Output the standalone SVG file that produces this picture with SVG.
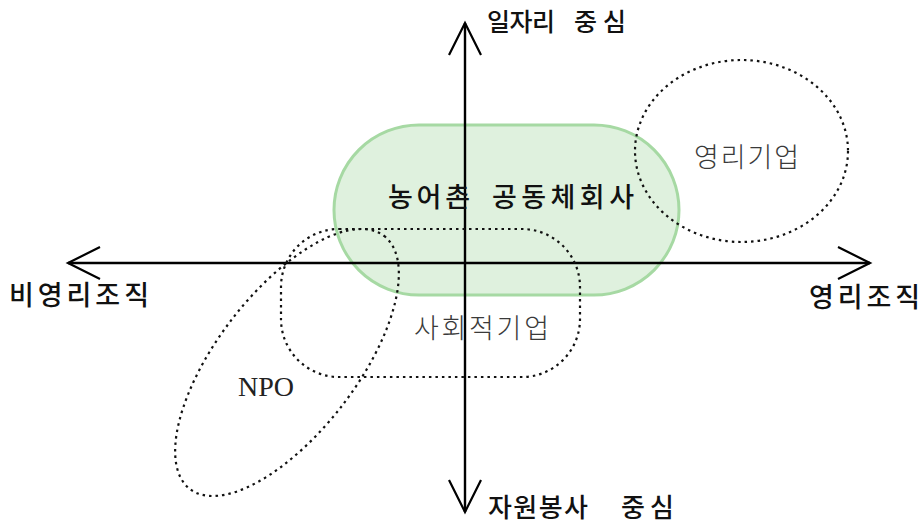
<svg xmlns="http://www.w3.org/2000/svg" width="921" height="524" viewBox="0 0 921 524">
<style>
.kr{font-family:"Noto Sans CJK KR","Noto Sans CJK SC",sans-serif;fill:#111;font-weight:500}
.inner{font-family:"Noto Sans CJK KR","Noto Sans CJK SC",sans-serif;fill:#3a3a3a;font-weight:300}
.dot{fill:none;stroke:#111;stroke-width:2.2;stroke-dasharray:2.5 4}
.axis{stroke:#000;stroke-width:2.4;fill:none}
</style>
<defs>
<marker id="arr" markerUnits="userSpaceOnUse" markerWidth="40" markerHeight="40" viewBox="-36 -20 40 40" refX="0" refY="0" orient="auto-start-reverse" overflow="visible">
<path d="M-32,-16 L0,0 L-32,16" fill="none" stroke="#000" stroke-width="2.2"/>
</marker>
</defs>
<rect width="921" height="524" fill="#fff"/>
<g id="community">
<rect x="334" y="125" width="345" height="170" rx="85" ry="85" fill="#dff1de" stroke="#a6d9a3" stroke-width="3"/>
</g>
<g id="connectors">
<line class="axis" x1="68" y1="263" x2="870" y2="263" marker-start="url(#arr)" marker-end="url(#arr)"/>
<line class="axis" x1="465" y1="23" x2="465" y2="512" marker-start="url(#arr)" marker-end="url(#arr)"/>
</g>
<g id="forprofit-company">
<ellipse class="dot" cx="741.5" cy="151" rx="106.5" ry="91"/>
<text class="inner" x="694" y="167" font-size="27" textLength="105" lengthAdjust="spacing">영리기업</text>
</g>
<g id="social-enterprise">
<rect class="dot" x="281" y="229" width="299" height="148" rx="58" ry="58"/>
<text class="inner" x="414" y="338" font-size="27" textLength="135" lengthAdjust="spacing">사회적기업</text>
</g>
<g id="npo">
<ellipse class="dot" cx="287" cy="362.5" rx="159.5" ry="70" transform="rotate(-52.5 287 362.5)"/>
<text x="266" y="396" font-family="Liberation Serif, serif" font-size="28" fill="#222" text-anchor="middle">NPO</text>
</g>
<g id="community-label">
<text class="kr" y="206.5" font-size="27"><tspan x="388" textLength="82" lengthAdjust="spacing">농어촌</tspan><tspan x="492" textLength="142" lengthAdjust="spacing">공동체회사</tspan></text>
</g>
<g id="label-top">
<text class="kr" y="30.5" font-size="25"><tspan x="487" textLength="68" lengthAdjust="spacing">일자리</tspan><tspan x="574" textLength="52" lengthAdjust="spacing">중심</tspan></text>
</g>
<g id="label-bottom">
<text class="kr" y="517" font-size="26"><tspan x="488" textLength="100" lengthAdjust="spacing">자원봉사</tspan><tspan x="621" textLength="53" lengthAdjust="spacing">중심</tspan></text>
</g>
<g id="label-left">
<text class="kr" x="9" y="305" font-size="27" textLength="140" lengthAdjust="spacing">비영리조직</text>
</g>
<g id="label-right">
<text class="kr" x="809" y="306.5" font-size="27" textLength="111" lengthAdjust="spacing">영리조직</text>
</g>
</svg>
